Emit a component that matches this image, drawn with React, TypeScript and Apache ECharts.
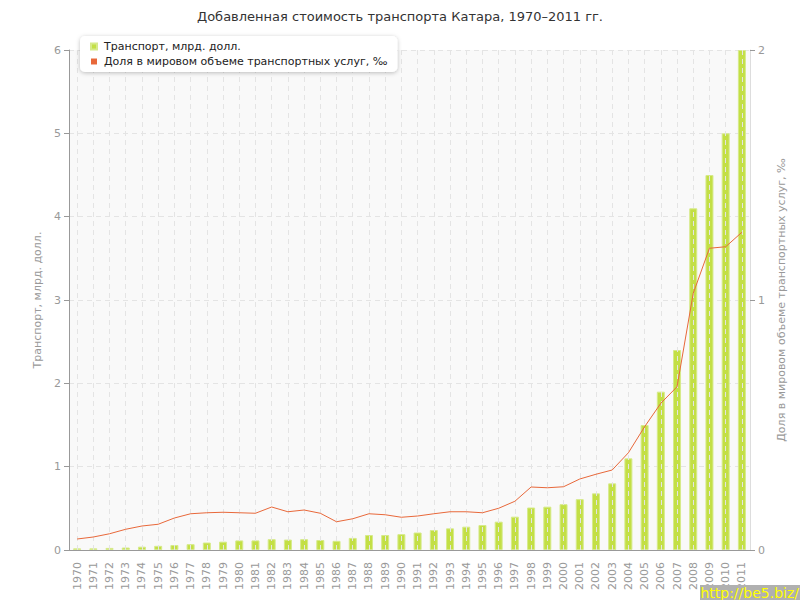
import React, { useEffect, useRef } from "react";
import * as echarts from "echarts";

const years = [
  "1970","1971","1972","1973","1974","1975","1976","1977","1978","1979",
  "1980","1981","1982","1983","1984","1985","1986","1987","1988","1989",
  "1990","1991","1992","1993","1994","1995","1996","1997","1998","1999",
  "2000","2001","2002","2003","2004","2005","2006","2007","2008","2009",
  "2010","2011",
];

const transport = [
  0.02, 0.02, 0.025, 0.03, 0.04, 0.05, 0.06, 0.07, 0.09, 0.10,
  0.115, 0.115, 0.13, 0.125, 0.13, 0.12, 0.11, 0.145, 0.18, 0.18,
  0.19, 0.21, 0.24, 0.26, 0.28, 0.30, 0.34, 0.40, 0.51, 0.52,
  0.55, 0.61, 0.68, 0.80, 1.10, 1.50, 1.90, 2.40, 4.10, 4.50,
  5.00, 6.00,
];

const share = [
  0.044, 0.052, 0.065, 0.083, 0.096, 0.103, 0.128, 0.145, 0.149, 0.151,
  0.149, 0.147, 0.172, 0.153, 0.16, 0.147, 0.113, 0.125, 0.145, 0.141,
  0.131, 0.136, 0.145, 0.153, 0.153, 0.149, 0.167, 0.195, 0.252, 0.249,
  0.253, 0.284, 0.303, 0.32, 0.389, 0.493, 0.587, 0.653, 1.027, 1.207,
  1.213, 1.271,
];

const seriesNames = [
  "Транспорт, млрд. долл.",
  "Доля в мировом объеме транспортных услуг, ‰",
];

const FONT = "DejaVu Sans";

export default function App() {
  const ref = useRef<HTMLDivElement>(null);
  useEffect(() => {
    if (!ref.current) return;
    const chart = echarts.init(ref.current, undefined, { renderer: "svg" });
    chart.setOption({
      animation: false,
      backgroundColor: "#ffffff",
      textStyle: { fontFamily: FONT },
      title: {
        text: "Добавленная стоимость транспорта Катара, 1970–2011 гг.",
        left: "center",
        top: 5,
        textStyle: { fontSize: 13, fontWeight: "normal", color: "#333", fontFamily: FONT },
      },
      legend: {
        orient: "vertical",
        left: 80,
        top: 36,
        padding: [5, 10, 5, 10],
        itemGap: 4,
        itemWidth: 6,
        itemHeight: 6,
        icon: "rect",
        backgroundColor: "#ffffff",
        borderRadius: 5,
        shadowBlur: 4,
        shadowColor: "rgba(0,0,0,0.25)",
        shadowOffsetY: 1,
        textStyle: { fontSize: 11, color: "#222", fontFamily: FONT, padding: [0, 0, 0, 2] },
        data: seriesNames,
        z: 10,
      },
      grid: {
        left: 69,
        right: 50,
        top: 50,
        bottom: 50,
        show: true,
        backgroundColor: "#f9f9f9",
        borderWidth: 0,
      },
      xAxis: {
        type: "category",
        data: years,
        boundaryGap: true,
        z: 3,
        axisLine: { lineStyle: { color: "#999", width: 1 } },
        axisTick: { alignWithLabel: true, length: 5, lineStyle: { color: "#999" } },
        axisLabel: { rotate: 90, interval: 0, fontSize: 11, color: "#999", margin: 12, fontFamily: FONT },
        splitLine: {
          show: true,
          alignWithLabel: true,
          interval: 0,
          lineStyle: { color: "#e4e4e4", type: [5, 4], width: 1 },
        },
      },
      yAxis: [
        {
          type: "value",
          min: 0,
          max: 6,
          interval: 1,
          position: "left",
          name: seriesNames[0],
          nameLocation: "middle",
          nameRotate: 90,
          nameGap: 25,
          nameTextStyle: { fontSize: 11, color: "#999", fontFamily: FONT },
          axisLine: { show: true, lineStyle: { color: "#999", width: 1 } },
          axisTick: { show: true, length: 5, lineStyle: { color: "#999" } },
          axisLabel: { fontSize: 11, color: "#999", margin: 8, fontFamily: FONT },
          splitLine: { show: true, lineStyle: { color: "#e4e4e4", type: [5, 4], width: 1 } },
        },
        {
          type: "value",
          min: 0,
          max: 2,
          interval: 1,
          position: "right",
          name: seriesNames[1],
          nameLocation: "middle",
          nameRotate: 90,
          nameGap: 21,
          nameTextStyle: { fontSize: 11, color: "#999", fontFamily: FONT },
          axisLine: { show: true, lineStyle: { color: "#ddd", width: 1 } },
          axisTick: { show: true, length: 5, lineStyle: { color: "#999" } },
          axisLabel: { fontSize: 11, color: "#999", margin: 8, fontFamily: FONT },
          splitLine: { show: false },
        },
      ],
      series: [
        {
          name: seriesNames[0],
          type: "bar",
          yAxisIndex: 0,
          data: transport,
          barWidth: 8,
          z: 2,
          itemStyle: { color: "#c3df45", borderColor: "#d6ea8a", borderWidth: 1 },
        },
        {
          name: seriesNames[1],
          type: "line",
          yAxisIndex: 1,
          data: share,
          z: 5,
          symbol: "none",
          lineStyle: { color: "#e8683a", width: 1 },
          itemStyle: { color: "#e8683a" },
        },
      ],
      graphic: [
        {
          type: "rect",
          right: 0,
          bottom: 0,
          shape: { width: 100, height: 15 },
          style: { fill: "#b0b0b0" },
          z: 20,
        },
        {
          type: "text",
          right: 1,
          bottom: 0,
          style: { text: "http://be5.biz/", fill: "#ffff00", font: "14px 'DejaVu Sans'" },
          z: 21,
        },
      ],
    });
    return () => chart.dispose();
  }, []);
  return (
    <div
      ref={ref}
      style={{ position: "fixed", left: 0, top: 0, width: 800, height: 600 }}
    />
  );
}
